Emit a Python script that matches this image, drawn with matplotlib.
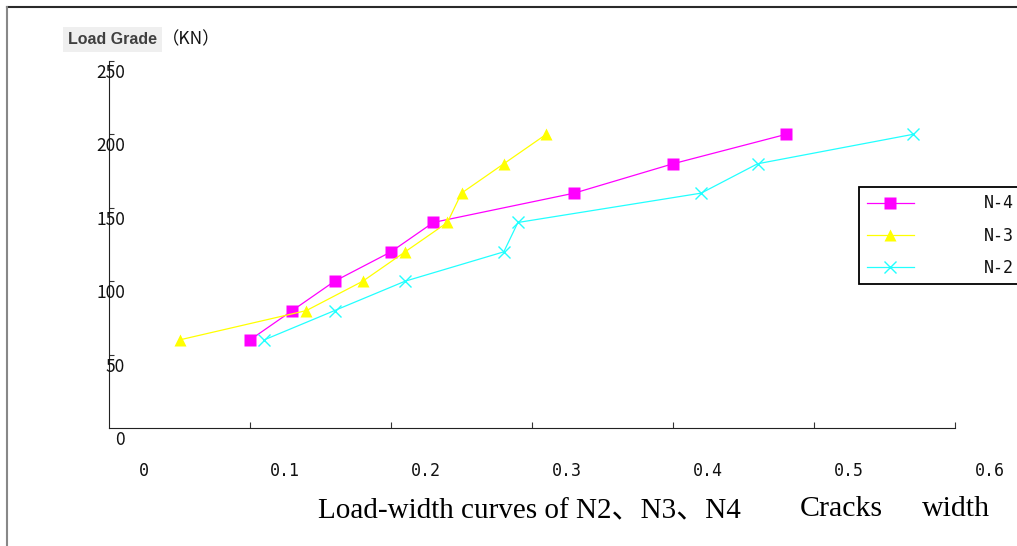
import matplotlib
matplotlib.use("Agg")
import matplotlib.pyplot as plt
from matplotlib.lines import Line2D
from matplotlib.transforms import ScaledTranslation

# ---- data ----
loads = [60, 80, 100, 120, 140, 160, 180, 200]
width_n4 = [0.10, 0.13, 0.16, 0.20, 0.23, 0.33, 0.40, 0.48]
width_n3 = [0.05, 0.14, 0.18, 0.21, 0.24, 0.25, 0.28, 0.31]
width_n2 = [0.11, 0.16, 0.21, 0.28, 0.29, 0.42, 0.46, 0.57]
series_labels = ["N-4", "N-3", "N-2"]
x_ticks = [0, 0.1, 0.2, 0.3, 0.4, 0.5, 0.6]
x_tick_labels = ["0", "0.1", "0.2", "0.3", "0.4", "0.5", "0.6"]
y_ticks = [0, 50, 100, 150, 200, 250]
y_tick_labels = ["0", "50", "100", "150", "200", "250"]

W, H = 1017, 546
fig = plt.figure(figsize=(W / 100, H / 100), dpi=100)
fig.patch.set_facecolor("white")
ax = fig.add_axes([109 / W, 118 / H, 846 / W, 367 / H])
ax.set_xlim(0, 0.6)
ax.set_ylim(0, 250)

ax.plot(width_n4, loads, color="#ff00ff", lw=0.9, marker="s", ms=8.5, mec="none",
        label=series_labels[0])
ax.plot(width_n3, loads, color="#ffff00", lw=0.9, marker="^", ms=8.3, mec="none",
        label=series_labels[1])
ax.plot(width_n2, loads, color="#22ffff", lw=0.9, marker="x", ms=8.5, mew=1.0,
        label=series_labels[2])

for s in ("top", "right"):
    ax.spines[s].set_visible(False)
for s in ("left", "bottom"):
    ax.spines[s].set_color("#222222")
    ax.spines[s].set_linewidth(0.8)

ax.set_xticks(x_ticks[1:])
ax.set_yticks(y_ticks[1:])
ax.tick_params(axis="x", direction="in", length=4.5, width=0.8, color="#333333",
               labelbottom=False)
ax.tick_params(axis="y", direction="in", length=3.5, width=0.8, color="#333333",
               labelleft=False)

# offset tick labels
xoff = ax.get_xaxis_transform() + ScaledTranslation(35 / 100, -43 / 100, fig.dpi_scale_trans)
for v, lab in zip(x_ticks, x_tick_labels):
    ax.text(v, 0, lab, transform=xoff, ha="center", va="center",
            family="DejaVu Sans Mono", size=12, color="#111111")
yoff = ax.get_yaxis_transform() + ScaledTranslation(16 / 100, -12 / 100, fig.dpi_scale_trans)
for v, lab in zip(y_ticks, y_tick_labels):
    ax.text(0, v, lab, transform=yoff, ha="right", va="center",
            family="Noto Sans CJK JP", size=12.5, color="#111111")

# legend
leg = ax.legend(loc="upper left", bbox_to_anchor=(859 / W, 1 - 187 / H),
                bbox_transform=fig.transFigure, borderaxespad=0,
                prop={"family": "DejaVu Sans Mono", "size": 12},
                handlelength=2.85, handletextpad=4.2, borderpad=0.45,
                labelspacing=0.85, fancybox=False, framealpha=1, numpoints=1)
leg.get_frame().set_edgecolor("black")
leg.get_frame().set_linewidth(1.3)
for t in leg.get_texts():
    t.set_color("#111111")

# y-axis title
fig.text(68 / W, 1 - 44 / H, "Load Grade", family="Liberation Sans", weight="bold",
         size=11.5, color="#404040", va="baseline",
         bbox=dict(boxstyle="square,pad=0.3", fc="#efefef", ec="none"))
fig.text(162 / W, 1 - 44 / H, "（KN）", family=["Noto Sans CJK JP", "DejaVu Sans"],
         size=12.5, color="#111111", va="baseline")

# caption and x-axis title
fig.text(318 / W, 1 - 518 / H, "Load-width curves of N2、N3、N4",
         family=["Liberation Serif", "Noto Sans CJK JP"], size=21, va="baseline",
         color="black")
fig.text(800 / W, 1 - 516 / H, "Cracks", family="Liberation Serif", size=21.5,
         va="baseline", color="black")
fig.text(922 / W, 1 - 516 / H, "width", family="Liberation Serif", size=21.5,
         va="baseline", color="black")

# outer frame fragments
fig.add_artist(Line2D([7 / W, 1], [1 - 7 / H, 1 - 7 / H], transform=fig.transFigure,
                      color="#2a2a2a", lw=1.5))
fig.add_artist(Line2D([7 / W, 7 / W], [0, 1 - 7 / H], transform=fig.transFigure,
                      color="#888888", lw=1.5))

fig.savefig("out.png", dpi=100)
